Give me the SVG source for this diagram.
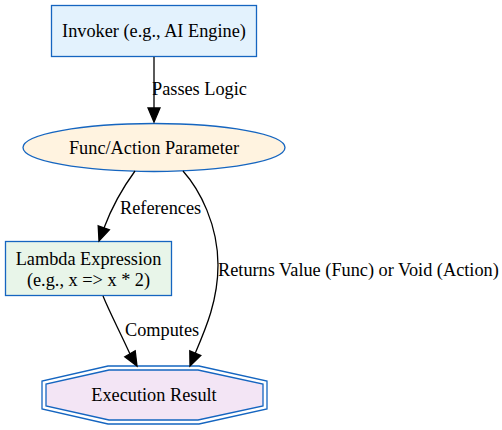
<svg xmlns="http://www.w3.org/2000/svg" width="502" height="430" viewBox="0 0 502 430">
<style>
text{font-family:"Liberation Serif","Times New Roman",serif;font-size:18.3px;fill:#000}
.n{stroke:#1565c0;stroke-width:1.3}
.e{fill:none;stroke:#000;stroke-width:1.3}
.ah{fill:#000;stroke:#000;stroke-width:1.3}
</style>
<rect width="502" height="430" fill="#fff"/>
<g id="invoker">
<rect class="n" x="51.5" y="5.5" width="205" height="51" fill="#e3f2fd"/>
<text x="154" y="37" text-anchor="middle">Invoker (e.g., AI Engine)</text>
</g>
<g id="param">
<ellipse class="n" cx="154" cy="147.5" rx="131" ry="24" fill="#fff3e0"/>
<text x="154" y="154" text-anchor="middle">Func/Action Parameter</text>
</g>
<g id="lambda">
<rect class="n" x="5.5" y="241.5" width="166" height="54" fill="#e8f5e9"/>
<text x="88.5" y="265" text-anchor="middle">Lambda Expression</text>
<text x="88.5" y="286" text-anchor="middle">(e.g., x =&gt; x * 2)</text>
</g>
<g id="result">
<polygon class="n" points="108,366 199,366 267,381 267,409 199,424 108,424 42,409 42,381" fill="none"/>
<polygon class="n" points="109,370 198,370 263,384 263,406 198,420 109,420 46,406 46,384" fill="#f3e5f5"/>
<text x="154" y="401" text-anchor="middle">Execution Result</text>
</g>
<g id="edges">
<path class="e" d="M154,57 L154,108"/>
<polygon class="ah" points="148,108 160,108 154,122"/>
<text x="152" y="95">Passes Logic</text>
<path class="e" d="M135,171 C124,186 113,204 104,228"/>
<polygon class="ah" points="98.2,225.8 109.4,229.8 99,241"/>
<text x="120" y="214">References</text>
<path class="e" d="M183,171 C200,190 218,225 218,265 C218,300 206,328 195.3,353"/>
<polygon class="ah" points="189.8,350.8 200.8,355.4 190,366"/>
<text x="218" y="276">Returns Value (Func) or Void (Action)</text>
<path class="e" d="M103,296 C110,313 119,330 130,354"/>
<polygon class="ah" points="124.8,356.8 135.2,350.8 137,366"/>
<text x="125" y="336">Computes</text>
</g>
</svg>
